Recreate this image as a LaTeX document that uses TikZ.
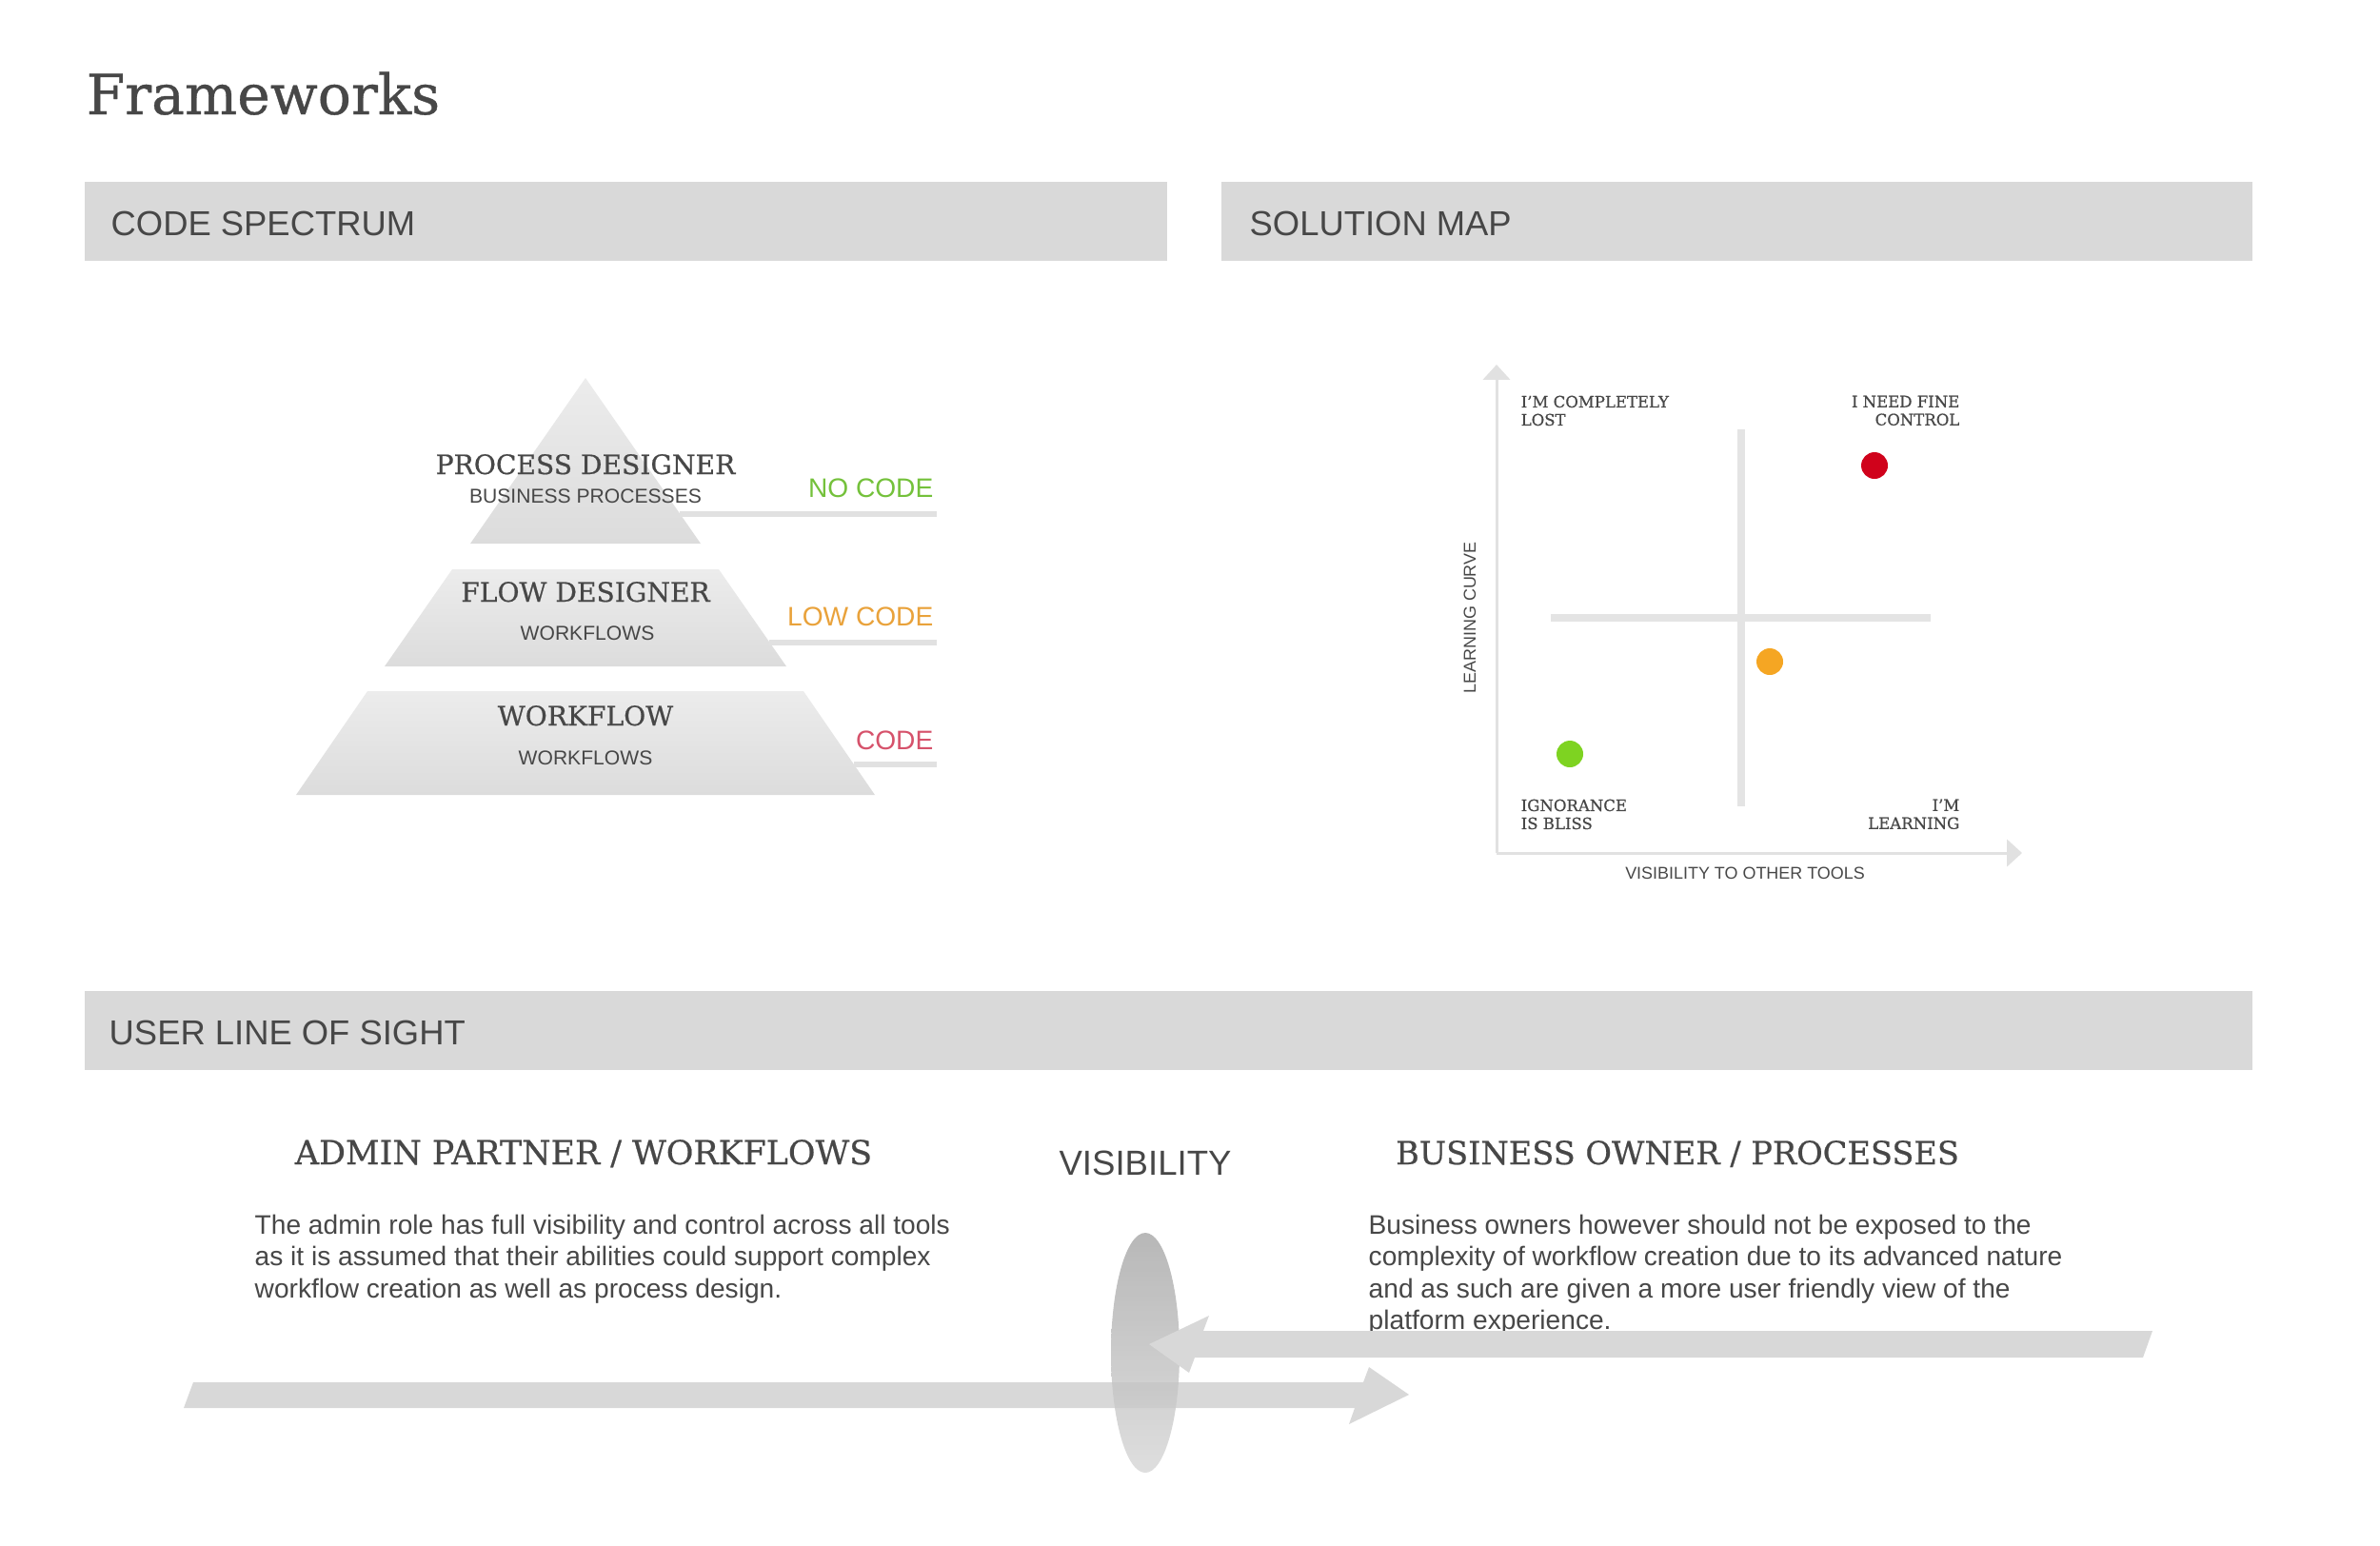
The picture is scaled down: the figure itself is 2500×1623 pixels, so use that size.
\documentclass[tikz,border=0pt]{standalone}
\usepackage{fontspec}
\setmainfont{Liberation Sans}
\newfontfamily\slabfont[FakeStretch=1.0,FakeBold=0.6]{DejaVu Serif}
\usetikzlibrary{positioning,arrows.meta}
\usepackage{xcolor}

\definecolor{bargray}{HTML}{D9D9D9}
\definecolor{inkgray}{HTML}{474747}
\definecolor{rulegray}{HTML}{E1E1E1}
\definecolor{crossgray}{HTML}{E4E4E4}
\definecolor{pyrtop}{HTML}{ECECEC}
\definecolor{pyrbot}{HTML}{DCDCDC}
\definecolor{nocode}{HTML}{74C13B}
\definecolor{lowcode}{HTML}{E9A23B}
\definecolor{fullcode}{HTML}{D6526B}
\definecolor{dotred}{HTML}{D0021B}
\definecolor{dotorange}{HTML}{F5A623}
\definecolor{dotgreen}{HTML}{7ED321}
\definecolor{arrowgray}{HTML}{D8D8D8}

\tikzset{
  bar/.style={fill=bargray,draw=none},
  bartitle/.style={anchor=base west,inner sep=0,text=inkgray,font=\fontsize{10.35}{12}\selectfont},
  tierhead/.style={anchor=base,inner sep=0,text=inkgray,font=\slabfont\fontsize{8.0}{10}\selectfont},
  tiersub/.style={anchor=base,inner sep=0,text=inkgray,font=\fontsize{6}{7}\selectfont},
  codelabel/.style={anchor=base east,inner sep=0,font=\fontsize{8}{9}\selectfont},
  coderule/.style={draw=rulegray,line width=1.7pt},
  tier/.style={top color=pyrtop,bottom color=pyrbot},
  quadlabel/.style={inner sep=0,text=inkgray,font=\slabfont\fontsize{4.7}{5.4}\selectfont},
  axislabel/.style={inner sep=0,text=inkgray,font=\fontsize{5.1}{6}\selectfont},
  axis/.style={draw=rulegray,line width=0.85pt,-{Triangle[length=4.5pt,width=8pt]}},
  cross/.style={draw=crossgray,line width=2.3pt},
  dot/.style={draw=none},
  rolehead/.style={anchor=base,inner sep=0,text=inkgray,font=\slabfont\fontsize{9.9}{11}\selectfont},
  roletext/.style={anchor=north west,inner sep=0,align=left,text=inkgray,font=\fontsize{8}{9.55}\selectfont},
  bigarrow/.style={fill=arrowgray,draw=none}
}

\begin{document}
\begin{tikzpicture}[x=0.01cm,y=-0.01cm]
\useasboundingbox (0,0) rectangle (2500,1623);

% title
\node[anchor=base west,inner sep=0,text=inkgray,font=\slabfont\fontsize{16.6}{20}\selectfont] (title) at (90,120) {Frameworks};

% section bars
\fill[bar] (89,191) rectangle (1226,274);
\node[bartitle] (spectrum) at (116,247) {CODE SPECTRUM};
\fill[bar] (1283,191) rectangle (2366,274);
\node[bartitle] (solmap) at (1312,247) {SOLUTION MAP};
\fill[bar] (89,1041) rectangle (2366,1124);
\node[bartitle] (sight) at (114,1097) {USER LINE OF SIGHT};

% pyramid
\shade[tier] (615,397) -- (736,571) -- (494,571) -- cycle;
\shade[tier] (475,598) -- (755,598) -- (826,700) -- (404,700) -- cycle;
\shade[tier] (386,726) -- (844,726) -- (919,835) -- (311,835) -- cycle;

\coordinate (edge1) at (714,540);
\coordinate (edge2) at (808,675);
\coordinate (edge3) at (897,803);
\coordinate (end1) at (984,540);
\coordinate (end2) at (984,675);
\coordinate (end3) at (984,803);
\draw[coderule] (edge1) -- (end1);
\draw[coderule] (edge2) -- (end2);
\draw[coderule] (edge3) -- (end3);

\node[tierhead] (process) at (615,498) {PROCESS DESIGNER};
\node[tiersub] (processsub) at (615,528) {BUSINESS PROCESSES};
\node[tierhead] (flow) at (615,632) {FLOW DESIGNER};
\node[tiersub] (flowsub) at (617,672) {WORKFLOWS};
\node[tierhead] (workflow) at (615,762) {WORKFLOW};
\node[tiersub] (workflowsub) at (615,803) {WORKFLOWS};

\node[codelabel,text=nocode] (nocodelbl) at (981,522) {NO CODE};
\node[codelabel,text=lowcode] (lowcodelbl) at (981,657) {LOW CODE};
\node[codelabel,text=fullcode] (codelbl) at (981,787) {CODE};

% solution map
\coordinate (origin) at (1572,896);
\coordinate (ytip) at (1572,383);
\coordinate (xtip) at (2124,896);
\draw[axis] (origin) -- (ytip);
\draw[axis] (origin) -- (xtip);
\draw[cross] (1829,451) -- (1829,847);
\draw[cross] (1629,649) -- (2028,649);

\fill[dot,dotred] (1969,489) circle[radius=14];
\fill[dot,dotorange] (1859,695) circle[radius=14];
\fill[dot,dotgreen] (1649,792) circle[radius=14];

\node[quadlabel,anchor=north west,align=left] (lost) at (1597,415) {I’M COMPLETELY\\LOST};
\node[quadlabel,anchor=north east,align=right] (fine) at (2059,415) {I NEED FINE\\CONTROL};
\node[quadlabel,anchor=north west,align=left] (bliss) at (1597,839) {IGNORANCE\\IS BLISS};
\node[quadlabel,anchor=north east,align=right] (learning) at (2059,839) {I’M\\LEARNING};

\node[axislabel,rotate=90] (ylabel) at (1544,649) {LEARNING CURVE};
\node[axislabel,anchor=base] (xlabel) at (1833,923) {VISIBILITY TO OTHER TOOLS};

% user line of sight
\node[rolehead] (admin) at (613,1223) {ADMIN PARTNER / WORKFLOWS};
\node[anchor=base,inner sep=0,text=inkgray,font=\fontsize{10.4}{12}\selectfont] (visibility) at (1203,1234) {VISIBILITY};
\node[rolehead,font=\slabfont\fontsize{9.55}{11}\selectfont] (owner) at (1762,1223) {BUSINESS OWNER / PROCESSES};

\node[roletext] (admintext) at (267,1275) {The admin role has full visibility and control across all tools\\as it is assumed that their abilities could support complex\\workflow creation as well as process design.};
\node[roletext] (ownertext) at (1437,1275) {Business owners however should not be exposed to the\\complexity of workflow creation due to its advanced nature\\and as such are given a more user friendly view of the\\platform experience.};

\fill[bigarrow] (203,1452) -- (1432,1452) -- (1438,1436) -- (1480,1465) -- (1417,1496) -- (1423,1479) -- (193,1479) -- cycle;
\shade[top color=gray!70,bottom color=gray!32,opacity=0.8] (1203,1421) ellipse[x radius=36,y radius=126];
\fill[bigarrow] (2261,1398) -- (1264,1398) -- (1270,1382) -- (1207,1412) -- (1249,1442) -- (1255,1426) -- (2251,1426) -- cycle;
\end{tikzpicture}
\end{document}
